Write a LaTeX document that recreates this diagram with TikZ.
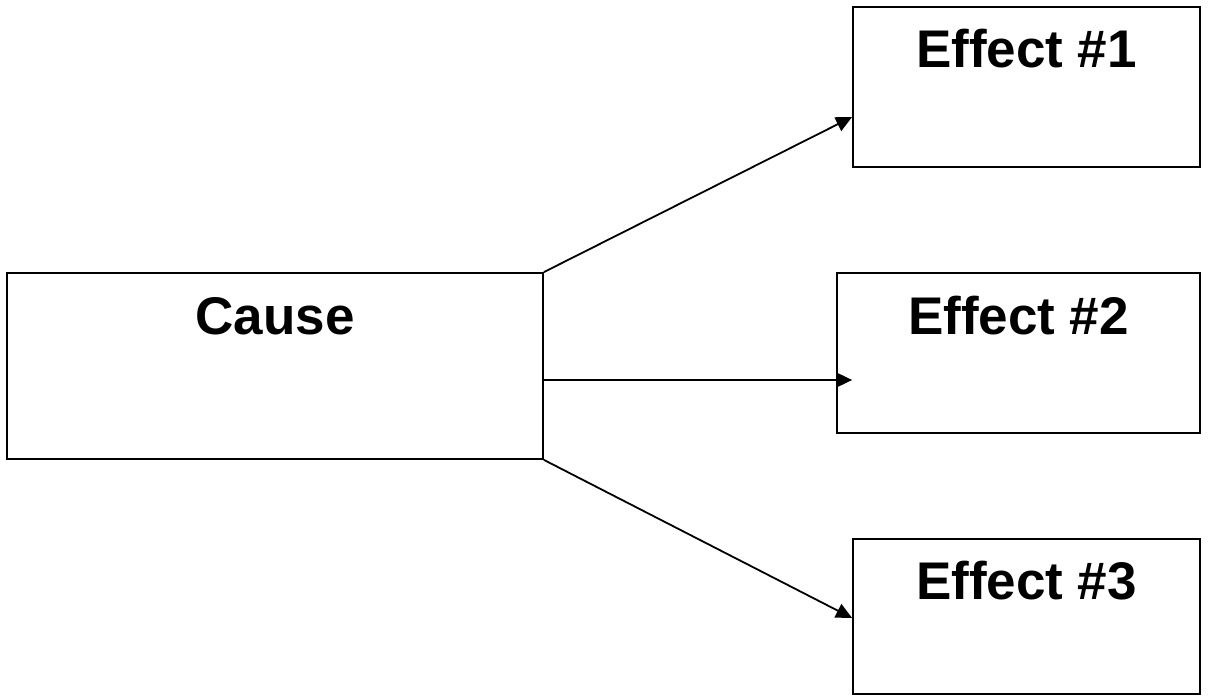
\documentclass[tikz,border=0pt]{standalone}
\usepackage{fontspec}
\setmainfont{Liberation Sans}
\usetikzlibrary{arrows.meta,calc}
\begin{document}
\begin{tikzpicture}[x=1pt,y=-1pt,
  box/.style={draw=black,line width=1.8pt,inner sep=0pt,minimum width=#1},
  lbl/.style={font=\fontsize{53}{60}\selectfont\bfseries,anchor=base,inner sep=0pt},
  conn/.style={draw=black,line width=1.8pt,-{Triangle[length=16pt,width=15pt]}}]
\useasboundingbox (0,0) rectangle (1211,698);
\node[box=536pt,minimum height=186pt] (cause) at (275,366) {};
\node[box=347pt,minimum height=160pt] (e1) at (1026.5,87) {};
\node[box=363pt,minimum height=160pt] (e2) at (1018.5,353) {};
\node[box=347pt,minimum height=155pt] (e3) at (1026.5,616.5) {};
\node[lbl] (tc) at ($(cause.north)+(0,62)$) {Cause};
\node[lbl] (t1) at ($(e1.north)+(0,61)$) {Effect \#1};
\node[lbl] (t2) at ($(e2.north)+(0,62)$) {Effect \#2};
\node[lbl] (t3) at ($(e3.north)+(0,61)$) {Effect \#3};
\draw[conn] (cause.north east) -- ($(e1.west)+(0,30)$);
\draw[conn] ($(cause.east)+(0,14)$) -- ($(e2.west)+(16,27)$);
\draw[conn] (cause.south east) -- ($(e3.west)+(0,1.5)$);
\end{tikzpicture}
\end{document}
